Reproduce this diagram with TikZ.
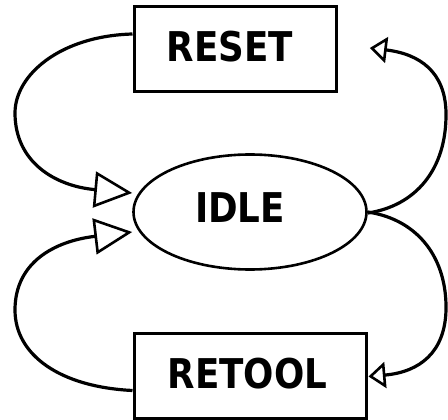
\documentclass[tikz,border=0pt]{standalone}
\usepackage{fontspec}
\newfontfamily\lblfont{DejaVu Sans}[FakeStretch=0.87]
\usetikzlibrary{arrows.meta,shapes.geometric,calc}
\begin{document}
\begin{tikzpicture}[x=1pt,y=-1pt,
  statebox/.style={draw,line width=3pt,rectangle,inner sep=0pt},
  stateoval/.style={draw,line width=2.6pt,ellipse,inner sep=0pt,
    minimum width=233pt,minimum height=115pt},
  lbl/.style={font=\lblfont\bfseries\fontsize{41}{49}\selectfont,inner sep=0pt},
  link/.style={line width=3.2pt},
  bighead/.style={-{Triangle[open,length=38pt,width=36pt,line width=2.6pt]}},
  smallhead/.style={-{Triangle[open,length=17pt,width=26pt,line width=2.6pt]}}
]
\useasboundingbox (0,0) rectangle (448,420);

% states
\node[statebox,minimum width=202pt,minimum height=85pt] (reset) at (235,49) {};
\node[stateoval] (idle) at (250,212) {};
\node[statebox,minimum width=232pt,minimum height=85pt] (retool) at (250,375.5) {};

% state names
\node[lbl] (resettxt) at (230,47) {RESET};
\node[lbl] (idletxt) at (240,207.5) {IDLE};
\node[lbl] (retooltxt) at (247.5,374) {RETOOL};

% reset -> idle
\draw[link,bighead] ([yshift=15pt]reset.west)
  .. controls (60,36) and (15,75) .. (15,113)
  .. controls (15,162) and (55,186) .. ([yshift=19pt]idle.west);

% idle -> reset
\draw[link,smallhead] ([yshift=-1pt]idle.east)
  .. controls (415,206) and (447,170) .. (446,112)
  .. controls (445,72) and (420,54) .. ([xshift=2pt,yshift=1pt]reset.east -| idle.east);

% idle -> retool
\draw[link,smallhead] (idle.east)
  .. controls (420,220) and (447,260) .. (446,310)
  .. controls (445,352) and (420,372) .. ([xshift=1pt,yshift=-1pt]retool.east);

% retool -> idle
\draw[link,bighead] ([yshift=-15pt]retool.west)
  .. controls (60,387) and (15,355) .. (15,310)
  .. controls (15,262) and (55,241) .. ([yshift=-20pt]idle.west);
\end{tikzpicture}
\end{document}
